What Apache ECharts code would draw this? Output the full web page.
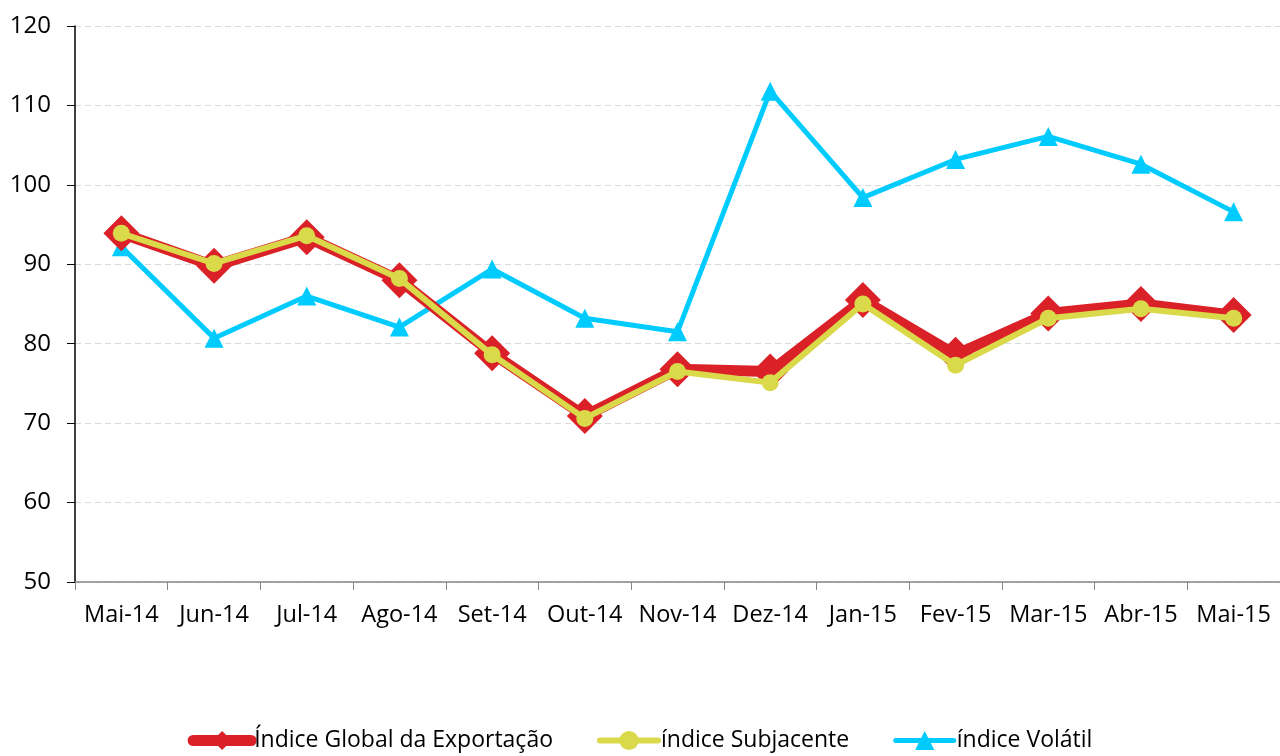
<!DOCTYPE html>
<html>
<head>
<meta charset="utf-8">
<script src="https://cdn.jsdelivr.net/npm/echarts@6/dist/echarts.min.js"></script>
<style>
  html, body { margin: 0; padding: 0; background: #fff; }
  #chart { width: 1280px; height: 756px; }
</style>
</head>
<body>
<div id="chart"></div>
<script>
const months = ['Mai-14', 'Jun-14', 'Jul-14', 'Ago-14', 'Set-14', 'Out-14', 'Nov-14',
  'Dez-14', 'Jan-15', 'Fev-15', 'Mar-15', 'Abr-15', 'Mai-15']
const globalIdx = [93.9, 89.8, 93.4, 88.0, 78.8, 70.9, 76.8, 76.5, 85.5, 78.6, 83.8, 85.0, 83.6]
const subjacente = [93.9, 90.1, 93.6, 88.2, 78.6, 70.6, 76.5, 75.1, 85.0, 77.3, 83.2, 84.4, 83.2]
const volatil = [92.2, 80.7, 86.0, 82.1, 89.4, 83.2, 81.5, 111.8, 98.4, 103.2, 106.1, 102.6, 96.6]

const font = '"Open Sans", Lato, sans-serif'
const RED = '#da2128'
const YELLOW = '#d9d94a'
const BLUE = '#00cbff'
const chart = echarts.init(document.getElementById('chart'))

chart.setOption({
  animation: false,
  textStyle: { fontFamily: font },
  grid: { left: 75, right: 0, top: 26, bottom: 174 },
  legend: {
    bottom: -1,
    left: 'center',
    itemWidth: 58,
    itemHeight: 24,
    itemGap: 44,
    lineStyle: { width: 'inherit', cap: 'round' },
    textStyle: { fontSize: 23, color: '#000', fontFamily: font, padding: [0, 0, 0, -2] },
    data: ['Índice Global da Exportação', 'índice Subjacente', 'índice Volátil'],
  },
  xAxis: {
    type: 'category',
    data: months,
    boundaryGap: true,
    axisLine: { lineStyle: { color: '#868686', width: 1.5 } },
    axisTick: { show: true, length: 8, lineStyle: { color: '#868686' } },
    axisLabel: { fontSize: 23.5, color: '#000', margin: 21, interval: 0 },
  },
  yAxis: {
    type: 'value',
    min: 50,
    max: 120,
    interval: 10,
    axisLine: { show: true, lineStyle: { color: '#000', width: 1.5 } },
    axisTick: { show: true, length: 8, lineStyle: { color: '#000' } },
    axisLabel: { fontSize: 24, color: '#000', margin: 24 },
    splitLine: { lineStyle: { color: '#d9d9d9', type: [6, 4] } },
  },
  series: [
    {
      name: 'Índice Global da Exportação',
      type: 'line',
      data: globalIdx,
      symbol: 'diamond',
      symbolSize: 36,
      lineStyle: { color: RED, width: 11 },
      itemStyle: { color: RED },
      z: 2,
    },
    {
      name: 'índice Subjacente',
      type: 'line',
      data: subjacente,
      symbol: 'circle',
      symbolSize: 17,
      lineStyle: { color: YELLOW, width: 6 },
      itemStyle: { color: YELLOW },
      z: 3,
    },
    {
      name: 'índice Volátil',
      type: 'line',
      data: volatil,
      symbol: 'triangle',
      symbolSize: 19,
      lineStyle: { color: BLUE, width: 5 },
      itemStyle: { color: BLUE },
      z: 1,
    },
  ],
})
</script>
</body>
</html>
